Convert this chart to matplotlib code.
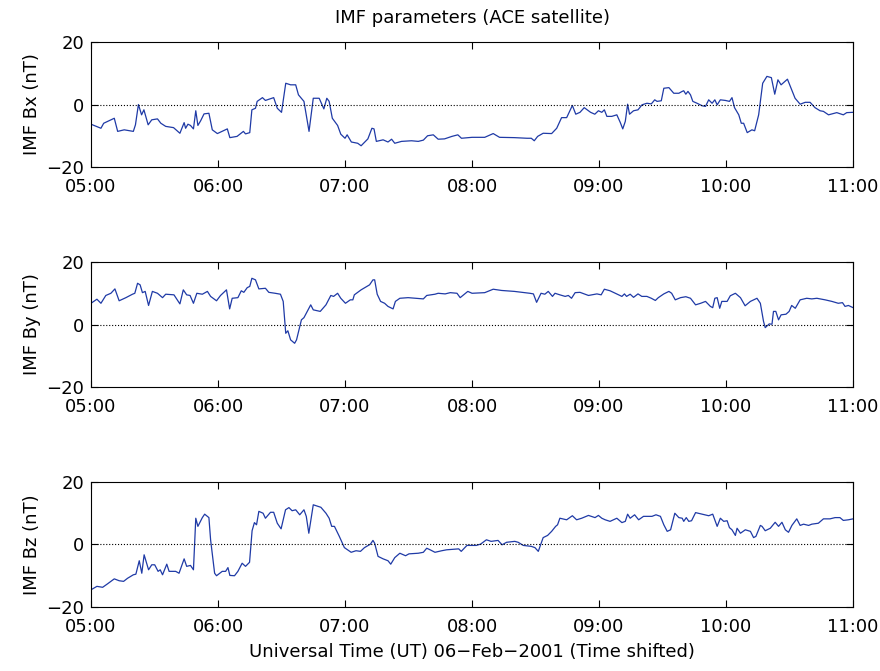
import numpy as np
import matplotlib
matplotlib.use("Agg")
import matplotlib.pyplot as plt

# time in minutes after 05:00 UT, values in nT
bx_t = [0, 4.7, 6, 11, 12.6, 15.7, 20, 21, 22.4, 23.9, 25, 27, 28.7, 31.4, 33, 35.3, 39, 42,
        44, 44.7, 45.8, 47, 48.4, 49.5, 50.5, 51.8, 53.4, 55.7, 57.3, 59.7, 64.4, 65.6, 69, 72,
        73, 75, 76, 77.7, 78.5, 81, 82.4, 86.3, 88, 90, 92, 94.3, 96.7, 98, 100.6, 103, 105,
        107.8, 110, 111.4, 112.5, 114, 116.5, 118, 120, 121, 123, 126, 127.6, 130.8, 132.7,
        133.7, 134.8, 138, 140.3, 142, 143.5, 146.7, 151.4, 154.6, 157, 159, 161.7, 164, 167,
        170.5, 173.3, 175, 180, 186, 190, 193, 200, 206, 208, 209.4, 211, 213.6, 217.6, 220,
        222.3, 224.7, 227.4, 229, 231, 233, 236, 238, 239.7, 241.3, 242.5, 243.7, 246, 248.4,
        250, 251.2, 252.4, 253.5, 254.4, 256.3, 258.4, 260.3, 262.6, 264.7, 266.3, 267.4, 269.4,
        270.6, 273, 275.3, 277.7, 279.3, 280, 281, 282, 283.2, 284.3, 286.3, 288.7, 290.3, 291.8,
        293.4, 294.7, 295.8, 297.3, 299.7, 301.6, 302.8, 304, 306, 307.2, 308.3, 310, 312.2,
        313.5, 315.4, 317.3, 319.3, 321.4, 323, 324.5, 326, 329, 331, 332.6, 335, 337.4, 339.7,
        342, 344.4, 346, 348.4, 352.3, 355.4, 357, 360]
bx = [-6.3, -7.6, -6, -4.4, -8.6, -8.1, -8.6, -6.5, 0, -3.3, -1.7, -6.5, -4.9, -4.6, -6, -7, -7.4, -9.2,
      -5.8, -7.6, -6.3, -6.7, -7.8, -2, -6.7, -5.2, -3, -2.8, -8.1, -9.3, -7.8, -10.6, -10.2, -8.6,
      -9.4, -9, -1.7, -1.2, 1, 2.2, 1.3, 2.2, -1.2, -2.5, 6.8, 6.3, 6.3, 3.1, 1, -8.6, 2,
      2, -1.4, 2, 1, -4.4, -6.7, -9.5, -10.8, -9.7, -12, -12.4, -13.2, -11, -7.6,
      -7.8, -11.8, -11.3, -12, -11.1, -12.4, -11.8, -11.6, -11.8, -11.4, -10, -9.7, -11.1, -11,
      -10.2, -9.7, -10.8, -10.5, -10.5, -9.3, -10.5, -10.6, -10.8, -10.8, -11.6, -10.2, -9.2, -9.3, -7.6,
      -4.2, -4.2, -0.3, -3.1, -2.5, -1, -2.5, -3.1, -2, -2.5, -1.7, -3.8, -3.8, -3.3,
      -5.7, -7.8, -5.4, 0.1, -3.1, -2, -1.7, -0.1, 0.4, 0.2, 1.5, 1, 1.2,
      5.2, 5.4, 3.6, 3.6, 4.2, 4.4, 3.3, 4.2, 3.1, 1, 0.4, -0.4, -0.6, 1.5,
      0.4, 1.5, -0.1, 1.5, 1.3, 1, 2.2, -1, -3.3, -6, -6, -9, -8.1,
      -8.4, -3.3, 6.8, 9, 8.6, 3.3, 7.9, 6.3, 8.1, 4.7, 2, 0.1, 0.7, 0.7,
      -1, -2, -2.2, -3.3, -2.6, -3.3, -2.6, -2.5]

by_t = [0, 2.8, 4.7, 7, 9.4, 11.3, 13.3, 16.5, 19.6, 20.7, 22, 23.2, 24.3, 25.6, 27.2, 29, 31.4,
        33.8, 35.3, 39.2, 42, 43.6, 45.2, 46.8, 48.4, 50, 52.6, 55, 56.5, 59.3, 61.2, 64, 65.5,
        66.7, 69.4, 71, 72.2, 73.8, 75, 76, 77.7, 79.3, 82.4, 84, 87, 89.5, 90.8, 92, 93, 94.3,
        96.2, 97.1, 99.4, 100.6, 103.8, 105, 108.3, 111, 113.3, 114.6, 116.5, 118, 120.2, 122.5,
        123.7, 124.4, 127.6, 131.6, 133.2, 134, 135.2, 136.8, 138.7, 140.3, 142.7, 143.8, 145.9,
        149.8, 157, 158.6, 162.5, 164, 167.3, 169.7, 172.9, 174.4, 178, 180, 186, 190, 194, 200,
        207.3, 209, 210.5, 212.6, 214.4, 216, 218, 219.2, 221.5, 224, 225.5, 227, 228.7, 231, 235,
        239, 241, 242.5, 245.2, 249.2, 250.8, 252, 253, 254.7, 256.3, 258.4, 260.2, 262.6, 264.7,
        266.6, 268, 270.6, 273, 274.3, 276, 278.5, 281, 283.2, 285.6, 288, 290.3, 292.6, 293.7,
        294.7, 295.8, 297, 298, 300.5, 302, 304.4, 306.8, 309, 311.5, 314.6, 316.2, 317.7, 318.5,
        320.4, 321.7, 322.4, 323.5, 324.8, 326, 328.3, 329.8, 331, 332.7, 335, 338.1, 340.5,
        342.9, 346.8, 350, 353, 355, 356.2, 357.8, 360]
by = [6.8, 8.1, 6.8, 9.3, 10, 11.4, 7.6, 8.6, 9.7, 10, 13.2, 12.7, 10.2, 10.6, 6.1, 10.6, 10,
      8.6, 9.7, 9.5, 6.6, 11.1, 9.5, 9.3, 6.8, 10, 9.7, 10.6, 9, 7.6, 9.3, 11.1, 5,
      8.4, 8.6, 10.8, 10.3, 11.8, 12.2, 14.8, 14.3, 11.4, 11.6, 10.3, 10, 9.7, 7.4, -2.8, -2, -4.9,
      -6, -4.9, 1.5, 2.2, 6.3, 4.7, 4.2, 6.3, 9.3, 9, 10, 8.4, 6.8, 7.9,
      7.9, 9.5, 11.1, 12.7, 14.3, 14.3, 9.7, 7.4, 6.8, 5.8, 5, 7.4, 8.4,
      8.6, 8.2, 9.3, 9.7, 10, 9.8, 10.2, 10, 8.6, 10.6, 10, 10.2, 11.3, 10.9, 10.6,
      10, 9.8, 7.1, 10, 9.7, 10.6, 9, 10, 9.5, 9, 9.3, 8.4, 10.2, 10.3, 9.3,
      9.8, 9.5, 11.3, 10.8, 9.5, 9, 9.8, 9, 9.7, 8.7, 9.8, 9, 9, 8.4,
      7.7, 8.6, 9.8, 10.6, 10, 7.9, 8.6, 8.9, 8.4, 6.3, 6.8, 7.4, 5.8, 5.4,
      8.4, 8.6, 5.2, 7.4, 7.4, 9.2, 10, 8.6, 6, 7.4, 8.4, 6.8, 1, -1,
      0.2, 0.1, 4.2, 4.2, 1.5, 3.1, 3.3, 4.2, 6.1, 5.2, 7.9, 8.4, 8.2,
      8.4, 7.9, 7.4, 6.8, 7, 5.8, 6.1, 5.4]

bz_t = [0, 2.8, 5.5, 7.8, 11, 13.3, 15.4, 17.3, 20, 21.2, 22.8, 24, 25.1, 27.2, 28.7, 30.1, 31.7,
        32.7, 33.8, 35.8, 36.9, 40, 41.6, 44, 45.2, 47, 48.4, 49.5, 50.5, 52.6, 53.7, 55.7, 56.5,
        58.4, 59.3, 62, 63.6, 64.7, 65.6, 67.8, 69.4, 71.4, 73, 74.9, 76.1, 77.2, 78.2, 79.3, 81.3,
        82.4, 84.8, 86.3, 88, 89.8, 91.9, 93.5, 95, 96.7, 98.6, 100.6, 101.7, 102.9, 105, 108.6,
        111, 112.5, 113.7, 115, 117.3, 119.7, 122.9, 125.2, 127.3, 129.2, 132, 133.2, 134, 135.6,
        138, 140.3, 141.6, 143.5, 145.9, 148.6, 150.2, 154.6, 157, 158.6, 160.2, 162.5, 165.7,
        168, 173.7, 174.9, 177.6, 182, 184, 186.8, 189, 192.3, 194.2, 196.3, 200.2, 201.8, 204.2,
        208, 209.7, 211.3, 213.6, 215.7, 217.6, 219.5, 220.4, 221.5, 224.7, 227.4, 229.4, 231.8,
        235, 238.1, 239.7, 241.3, 242.9, 245.2, 248.4, 250.8, 252.4, 253.5, 254.7, 256.8, 258.7,
        261, 265, 266.9, 269, 270.6, 272.2, 273.8, 275.8, 277.7, 279.3, 280, 281.2, 282.4, 283.7,
        285.6, 288.7, 291.8, 293.7, 295.8, 297.3, 298.9, 300.5, 301.6, 302.8, 304.4, 305.2, 306.8,
        309.1, 311.5, 313, 314.1, 316.2, 317, 318.5, 320.9, 323.2, 324.8, 326.4, 328, 329.5,
        331.1, 333.4, 335, 336.6, 339, 340.5, 343.6, 346, 349.1, 351.5, 353.8, 355.4, 357.8, 360]
bz = [-14.5, -13.4, -13.7, -12.6, -11, -11.6, -11.8, -10.8, -9.7, -9.5, -5.2, -9.2, -3.3, -8.1, -6.5, -6.5, -8.6,
      -8.1, -9.7, -6.3, -8.6, -8.6, -9.2, -4.6, -7, -6.7, -8.1, 8.4, 5.8, 8.6, 9.7, 8.6, 1.5,
      -9.2, -10, -8.6, -8.6, -7.4, -9.9, -10, -8.6, -6, -7, -5.7, 4.4, 7, 6.3, 10.6, 10,
      8.4, 10.3, 10.3, 6.8, 5, 11.1, 11.8, 10.8, 11.1, 9.5, 11.1, 9, 3.6, 12.7, 11.9,
      10, 8.4, 5.8, 5.8, 2.6, -1, -2.5, -2, -2.2, -1, 0.1, 1.3, 0.4, -3.8,
      -4.6, -5.2, -6.3, -4.2, -2.8, -3.6, -3, -2.8, -2.5, -1.2, -1.7, -2.5, -2,
      -1.7, -1.4, -2.2, -0.3, -0.3, 0.1, 1.5, 1, 1.3, -0.1, 0.7, 1, 0.7, -0.3,
      -0.6, -1, -2.2, 2.2, 2.9, 4.2, 5.8, 6.3, 8.4, 7.9, 9.2, 7.9, 8.4,
      9.3, 8.6, 9.3, 8.4, 7.9, 7.4, 8.4, 7, 7.4, 9.7, 8.4, 9.5, 7.9,
      9, 9, 9.5, 9, 6.3, 4.2, 4.7, 10, 8.6, 8.4, 7.4, 8.6, 7.4, 7.6,
      10.2, 9.7, 9.2, 9.7, 5.8, 8.4, 7.4, 7.6, 5.4, 4.7, 2.9, 5.2, 3.6,
      4.7, 4.2, 2.2, 2.6, 6.1, 5.8, 4.4, 5.2, 7.1, 5.8, 7.1, 4.7, 3.9,
      6.1, 8.2, 6.1, 6.5, 6.1, 6.5, 6.8, 8.2, 8.2, 8.6, 8.6, 7.7, 7.9, 8.2]

tick_pos = [0, 60, 120, 180, 240, 300, 360]
tick_labels = ["05:00", "06:00", "07:00", "08:00", "09:00", "10:00", "11:00"]
ylabels = ["IMF Bx (nT)", "IMF By (nT)", "IMF Bz (nT)"]

plt.rcParams['font.family'] = ['DejaVu Sans']
plt.rcParams['font.size'] = 12

fig = plt.figure(figsize=(8.8, 6.71), dpi=100)
bottoms = [0.7511, 0.4232, 0.0954]
series = [(bx_t, bx), (by_t, by), (bz_t, bz)]

for i, (t, v) in enumerate(series):
    ax = fig.add_axes([0.1034, bottoms[i], 0.866, 0.1863])
    ax.plot(t, v, color='#1f3aa6', lw=0.9)
    ax.axhline(0, color='black', ls=':', lw=0.8)
    ax.set_xlim(0, 360)
    ax.set_ylim(-20, 20)
    ax.set_yticks([-20, 0, 20])
    ax.set_xticks(tick_pos)
    ax.set_xticklabels(tick_labels)
    ax.tick_params(direction='in', top=True, right=True, length=5, width=0.8, labelsize=13)
    ax.tick_params(axis='x', pad=8)
    ax.tick_params(axis='y', pad=5)
    ax.set_ylabel(ylabels[i], fontsize=13, labelpad=4)
    for s in ax.spines.values():
        s.set_linewidth(0.8)
    if i == 0:
        ax.set_title("IMF parameters (ACE satellite)", fontsize=13, pad=14)
    if i == 2:
        ax.set_xlabel("Universal Time (UT) 06\u2212Feb\u22122001 (Time shifted)", fontsize=13, labelpad=5)

fig.savefig("out.png", dpi=100)
